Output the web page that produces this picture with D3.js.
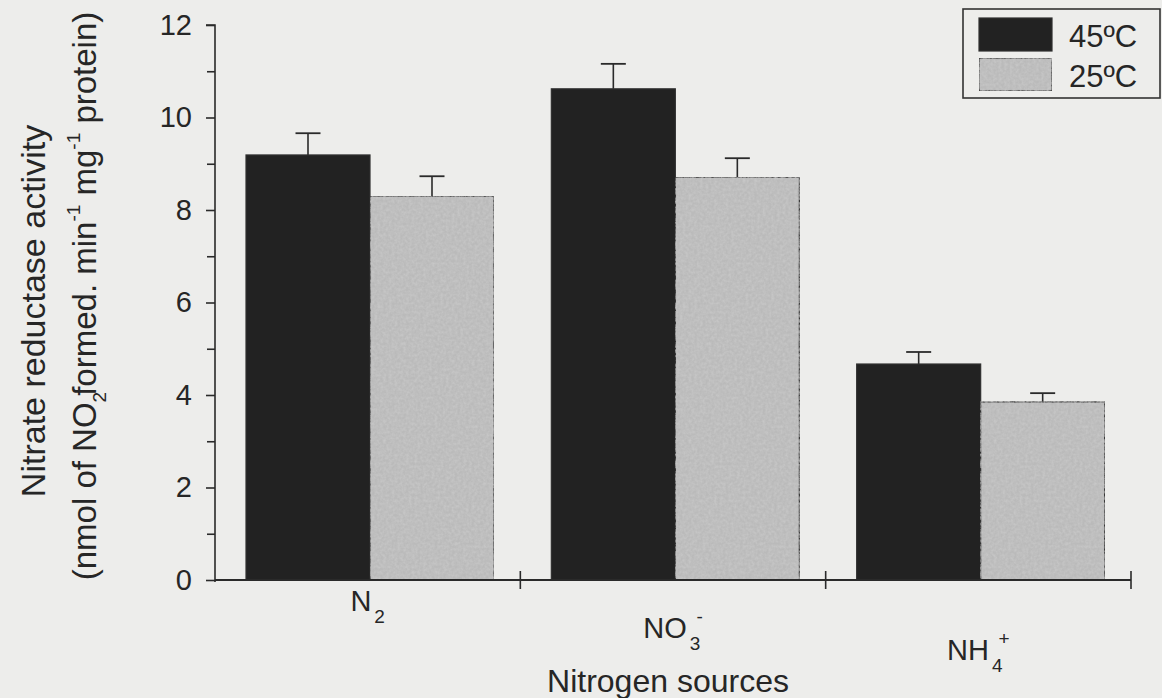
<!DOCTYPE html>
<html><head><meta charset="utf-8">
<script src="https://cdn.jsdelivr.net/npm/d3@7"></script>
<style>
html,body{margin:0;padding:0;background:#ededeb;}
svg{display:block;}
text{font-family:"Liberation Sans",Arial,Helvetica,sans-serif;fill:#262626;}
</style></head>
<body>
<svg id="chart" width="1162" height="698"></svg>
<script>
// ---- data ----
const categories = ["N2", "NO3-", "NH4+"];
const labelMain = ["N", "NO", "NH"];
const labelSub = ["2", "3", "4"];
const labelSup = ["", "-", "+"];
const series = ["45ºC", "25ºC"];
const values45 = [9.19, 10.62, 4.67];
const errors45 = [0.47, 0.54, 0.26];
const values25 = [8.30, 8.71, 3.85];
const errors25 = [0.43, 0.41, 0.19];
const yTicks = [0, 2, 4, 6, 8, 10, 12];
const yMinorTicks = [1, 3, 5, 7, 9, 11];

(function() {
const svg = d3.select("#chart");
const mLeft = 215, mRight = 1131, mTop = 25, mBottom = 580;
const x = d3.scaleBand().domain(categories).range([mLeft, mRight]).paddingInner(0).paddingOuter(0);
const xs = d3.scaleBand().domain(series).range([31, 279]);
const y = d3.scaleLinear().domain([0, 12]).range([mBottom, mTop]);

const defs = svg.append("defs");
const f = defs.append("filter").attr("id", "grain").attr("x", 0).attr("y", 0).attr("width", 1).attr("height", 1);
f.append("feTurbulence").attr("type", "fractalNoise").attr("baseFrequency", 0.35).attr("numOctaves", 2).attr("seed", 4).attr("result", "n");
f.append("feColorMatrix").attr("in", "n").attr("type", "matrix")
  .attr("values", "0 0 0 0 0.6  0 0 0 0 0.6  0 0 0 0 0.6  0 0 0 1.2 -0.35").attr("result", "nc");
f.append("feComposite").attr("in", "nc").attr("in2", "SourceGraphic").attr("operator", "atop");

const rows = categories.map((c, i) => ({c, i}));
const colors = {"45ºC": "#222222", "25ºC": "#bababa"};

const groups = svg.append("g").selectAll("g").data(rows).join("g")
  .attr("transform", d => `translate(${x(d.c)},0)`);

const barData = d => [
  {s: "45ºC", v: values45[d.i], e: errors45[d.i]},
  {s: "25ºC", v: values25[d.i], e: errors25[d.i]}
];

// error bars
groups.selectAll("g.err").data(barData).join("g").attr("class", "err").each(function(b) {
  const g = d3.select(this);
  const cx = xs(b.s) + xs.bandwidth() / 2;
  g.append("line").attr("x1", cx).attr("x2", cx).attr("y1", y(b.v)).attr("y2", y(b.v + b.e))
    .attr("stroke", "#2a2a2a").attr("stroke-width", 1.6);
  g.append("line").attr("x1", cx - 12.5).attr("x2", cx + 12.5).attr("y1", y(b.v + b.e)).attr("y2", y(b.v + b.e))
    .attr("stroke", "#2a2a2a").attr("stroke-width", 1.8);
});

groups.selectAll("rect").data(barData).join("rect")
  .attr("x", b => xs(b.s)).attr("width", xs.bandwidth())
  .attr("y", b => y(b.v)).attr("height", b => y(0) - y(b.v))
  .attr("fill", b => colors[b.s])
  .attr("filter", b => b.s === "25ºC" ? "url(#grain)" : null)
  .attr("stroke", "#303030").attr("stroke-width", 1.2);

// y axis
const yAxis = d3.axisLeft(y).tickValues(yTicks).tickSize(9).tickPadding(14).tickFormat(d3.format("d"));
const gy = svg.append("g").attr("transform", `translate(${mLeft},0)`).call(yAxis);
gy.select(".domain").attr("stroke", "#2a2a2a").attr("stroke-width", 1.6).attr("d", `M-9,${y(12)}H0V${mBottom + 2}`);
gy.selectAll(".tick line").attr("stroke", "#2a2a2a").attr("stroke-width", 1.6);
gy.selectAll(".tick text").attr("font-size", 29).attr("fill", "#262626").attr("font-family", "Liberation Sans, Arial, sans-serif");
const gym = svg.append("g").attr("transform", `translate(${mLeft},0)`)
  .call(d3.axisLeft(y).tickValues(yMinorTicks).tickSize(8).tickFormat(""));
gym.select(".domain").remove();
gym.selectAll(".tick line").attr("stroke", "#2a2a2a").attr("stroke-width", 1.6);

// x axis
const gx = svg.append("g").attr("transform", `translate(0,${mBottom})`);
gx.append("line").attr("x1", mLeft).attr("x2", mRight).attr("y1", 0).attr("y2", 0)
  .attr("stroke", "#2a2a2a").attr("stroke-width", 1.8);
gx.selectAll("line.t").data(categories).join("line").attr("class", "t")
  .attr("x1", d => x(d) + x.bandwidth()).attr("x2", d => x(d) + x.bandwidth())
  .attr("y1", -9).attr("y2", 9).attr("stroke", "#2a2a2a").attr("stroke-width", 1.6);

const labelY = [31, 58, 80];
const lab = gx.selectAll("text.cat").data(rows).join("text").attr("class", "cat")
  .attr("x", d => x(d.c) + x.bandwidth() / 2).attr("y", d => labelY[d.i])
  .attr("text-anchor", "middle").attr("font-size", 29);
lab.append("tspan").text(d => labelMain[d.i]);
lab.append("tspan").attr("font-size", 19).attr("dx", 3).attr("dy", 12).text(d => labelSub[d.i]);
lab.append("tspan").attr("font-size", 19).attr("dx", d => labelSup[d.i] ? -4 : 0).attr("dy", -27).text(d => labelSup[d.i]);

svg.append("text").attr("x", 668).attr("y", 692).attr("text-anchor", "middle").attr("font-size", 32)
  .text("Nitrogen sources");

// y titles
svg.append("text").attr("transform", "translate(45,311) rotate(-90)").attr("text-anchor", "middle")
  .attr("font-size", 34).text("Nitrate reductase activity");
const t2 = svg.append("text").attr("transform", "translate(96,296) rotate(-90)").attr("text-anchor", "middle")
  .attr("font-size", 33);
t2.append("tspan").text("(nmol of NO");
t2.append("tspan").attr("font-size", 19).attr("dy", 10).text("2");
t2.append("tspan").attr("dy", -10).attr("dx", -4).text("formed. min");
t2.append("tspan").attr("font-size", 19).attr("dy", -16).text("-1");
t2.append("tspan").attr("dy", 16).text(" mg");
t2.append("tspan").attr("font-size", 19).attr("dy", -16).text("-1");
t2.append("tspan").attr("dy", 16).text(" protein)");

// legend
const lg = svg.append("g");
lg.append("rect").attr("x", 963).attr("y", 9).attr("width", 197).attr("height", 89)
  .attr("fill", "none").attr("stroke", "#333").attr("stroke-width", 1.6);
const li = lg.selectAll("g.li").data(series).join("g").attr("class", "li")
  .attr("transform", (d, i) => `translate(979,${18 + i * 40})`);
li.append("rect").attr("width", 73).attr("height", 33)
  .attr("fill", d => colors[d]).attr("filter", d => d === "25ºC" ? "url(#grain)" : null)
  .attr("stroke", "#303030").attr("stroke-width", 1.2);
li.append("text").attr("x", 90).attr("y", 29).attr("font-size", 31).text(d => d);
})();
</script>
</body></html>
